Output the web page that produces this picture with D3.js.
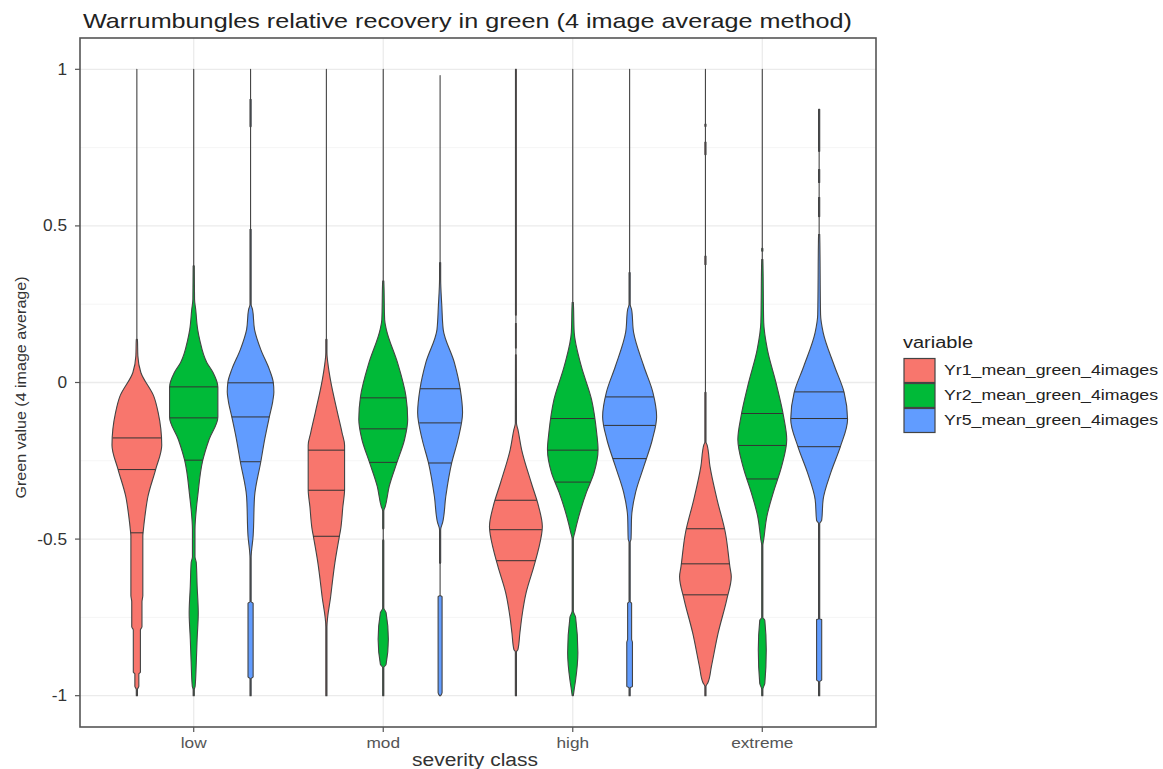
<!DOCTYPE html>
<html>
<head>
<meta charset="utf-8">
<script src="https://cdn.jsdelivr.net/npm/d3@7"></script>
<style>
  html, body { margin: 0; padding: 0; background: #fff; }
  svg { display: block; font-family: "Liberation Sans", Arial, sans-serif; }
</style>
</head>
<body>
<svg id="chart" width="1163" height="769"></svg>
<script>
// ---------------- data ----------------
const titleText = "Warrumbungles relative recovery in green (4 image average method)";
const xTitle = "severity class";
const yTitle = "Green value (4 image average)";
const legendTitle = "variable";
const categories = ["low", "mod", "high", "extreme"];
const seriesNames = ["Yr1_mean_green_4images", "Yr2_mean_green_4images", "Yr5_mean_green_4images"];
const yTicks = [-1, -0.5, 0, 0.5, 1];
const yTickLabels = ["-1", "-0.5", "0", "0.5", "1"];
const yMinorTicks = [-0.75, -0.25, 0.25, 0.75];

// violin profiles: [value, relative density] from top to bottom
const yr1_low = [[1,0],[0.14,0],[0.137,0.02],[0.085,0.035],[0.032,0.14],[-0.045,0.6],[-0.096,0.75],[-0.2,0.875],[-0.278,0.66],[-0.364,0.39],[-0.43,0.28],[-0.47,0.23],[-0.49,0.21],[-0.68,0.21],[-0.7,0.18],[-0.78,0.18],[-0.79,0.125],[-0.925,0.125],[-0.93,0.07],[-0.97,0.07],[-0.98,0.02],[-1,0.02]];
const yr1_mod = [[1,0],[0.14,0],[0.137,0.02],[0.096,0.02],[0.05,0.07],[0.01,0.14],[-0.096,0.39],[-0.16,0.55],[-0.2,0.64],[-0.342,0.64],[-0.396,0.58],[-0.47,0.5],[-0.49,0.46],[-0.575,0.3],[-0.684,0.15],[-0.78,0.02],[-1,0.02]];
const yr1_high = [[1,0.015],[0.215,0.015],[0.214,0],[0.19,0],[0.189,0.015],[0.11,0.015],[0.108,0],[0.09,0],[0.088,0.015],[-0.13,0.02],[-0.15,0.07],[-0.214,0.2],[-0.32,0.54],[-0.396,0.8],[-0.46,0.93],[-0.534,0.79],[-0.588,0.63],[-0.671,0.36],[-0.748,0.21],[-0.8,0.14],[-0.853,0.07],[-0.86,0.02],[-1,0.02]];
const yr1_extreme = [[1,0],[0.826,0],[0.825,0.02],[0.818,0.02],[0.817,0],[0.768,0],[0.767,0.02],[0.728,0.02],[0.727,0],[0.404,0],[0.403,0.02],[0.377,0.02],[0.376,0],[-0.03,0],[-0.032,0.02],[-0.19,0.02],[-0.2,0.06],[-0.268,0.16],[-0.374,0.41],[-0.479,0.7],[-0.588,0.86],[-0.62,0.91],[-0.693,0.75],[-0.799,0.45],[-0.907,0.21],[-0.958,0.09],[-0.97,0.02],[-1,0.02]];

const yr2_low = [[1,0],[0.375,0],[0.372,0.02],[0.265,0.03],[0.233,0.07],[0.169,0.14],[0.137,0.21],[0.064,0.46],[0.032,0.68],[-0.015,0.85],[-0.11,0.85],[-0.182,0.54],[-0.248,0.32],[-0.364,0.14],[-0.406,0.09],[-0.47,0.045],[-0.556,0.045],[-0.575,0.09],[-0.65,0.12],[-0.735,0.16],[-0.82,0.12],[-0.895,0.09],[-0.97,0.05],[-0.98,0.02],[-1,0.02]];
const yr2_mod = [[1,0],[0.325,0],[0.324,0.02],[0.2,0.05],[0.169,0.11],[0.064,0.5],[-0.045,0.8],[-0.118,0.86],[-0.182,0.75],[-0.256,0.48],[-0.332,0.21],[-0.396,0.07],[-0.41,0.02],[-0.465,0.02],[-0.47,0],[-0.5,0],[-0.505,0.02],[-0.72,0.02],[-0.735,0.1],[-0.82,0.18],[-0.9,0.1],[-0.91,0.02],[-1,0.02]];
const yr2_high = [[1,0],[0.257,0],[0.256,0.02],[0.16,0.05],[0.052,0.3],[-0.054,0.66],[-0.16,0.84],[-0.214,0.89],[-0.288,0.75],[-0.351,0.48],[-0.428,0.21],[-0.479,0.07],[-0.5,0.02],[-0.73,0.02],[-0.75,0.1],[-0.863,0.18],[-0.95,0.1],[-0.98,0.05],[-1,0.02]];
const yr2_extreme = [[1,0],[0.43,0],[0.428,0.02],[0.42,0.02],[0.418,0],[0.394,0],[0.393,0.02],[0.192,0.05],[0.105,0.18],[0.0,0.48],[-0.109,0.75],[-0.182,0.86],[-0.268,0.68],[-0.351,0.39],[-0.428,0.16],[-0.502,0.05],[-0.52,0.02],[-0.75,0.02],[-0.76,0.09],[-0.853,0.14],[-0.96,0.09],[-0.98,0.02],[-1,0.02]];

const yr5_low = [[1,0],[0.905,0],[0.904,0.02],[0.818,0.02],[0.815,0],[0.49,0],[0.489,0.02],[0.249,0.02],[0.233,0.07],[0.169,0.14],[0.105,0.36],[0.042,0.66],[0.0,0.8],[-0.03,0.82],[-0.06,0.78],[-0.11,0.66],[-0.18,0.5],[-0.253,0.36],[-0.364,0.14],[-0.49,0.09],[-0.56,0.02],[-0.7,0.02],[-0.705,0.09],[-0.94,0.09],[-0.945,0.02],[-1,0.02]];
const yr5_mod = [[0.98,0],[0.384,0],[0.383,0.02],[0.329,0.02],[0.246,0.06],[0.169,0.11],[0.064,0.5],[-0.022,0.71],[-0.096,0.79],[-0.182,0.63],[-0.256,0.41],[-0.364,0.2],[-0.447,0.09],[-0.47,0.02],[-0.575,0.02],[-0.58,0],[-0.68,0],[-0.684,0.07],[-0.99,0.07],[-1,0.02]];
const yr5_high = [[1,0],[0.352,0],[0.351,0.02],[0.249,0.02],[0.233,0.07],[0.16,0.14],[0.052,0.5],[-0.032,0.82],[-0.109,0.95],[-0.182,0.8],[-0.268,0.5],[-0.351,0.21],[-0.428,0.07],[-0.5,0.05],[-0.51,0.02],[-0.7,0.02],[-0.705,0.07],[-0.82,0.07],[-0.83,0.1],[-0.97,0.1],[-0.975,0.02],[-1,0.02]];
const yr5_extreme = [[0.872,0.02],[0.738,0.02],[0.737,0],[0.681,0],[0.68,0.02],[0.639,0.02],[0.638,0],[0.592,0],[0.591,0.02],[0.53,0.02],[0.529,0],[0.474,0],[0.473,0.02],[0.217,0.05],[0.16,0.14],[0.052,0.54],[-0.032,0.88],[-0.118,1.0],[-0.204,0.75],[-0.288,0.41],[-0.374,0.14],[-0.44,0.09],[-0.45,0.02],[-0.755,0.02],[-0.757,0.09],[-0.95,0.09],[-0.955,0.02],[-1,0.02]];

// quantile lines (25%, 50%, 75%) per category
const yr1_quantiles = [[-0.48,-0.278,-0.177],[-0.491,-0.344,-0.216],[-0.569,-0.47,-0.376],[-0.678,-0.579,-0.467]];
const yr2_quantiles = [[-0.248,-0.113,-0.014],[-0.255,-0.148,-0.049],[-0.318,-0.216,-0.115],[-0.308,-0.201,-0.099]];
const yr5_quantiles = [[-0.253,-0.11,-0.001],[-0.257,-0.129,-0.02],[-0.243,-0.137,-0.046],[-0.205,-0.115,-0.03]];

// ---------------- styling ----------------
const palette = ["#F8766D", "#00BA38", "#619CFF"];
const profiles = [
  [yr1_low, yr1_mod, yr1_high, yr1_extreme],
  [yr2_low, yr2_mod, yr2_high, yr2_extreme],
  [yr5_low, yr5_mod, yr5_high, yr5_extreme]
];
const quantiles = [yr1_quantiles, yr2_quantiles, yr5_quantiles];

const svg = d3.select("#chart");
const panel = { left: 80, right: 876, top: 38, bottom: 727 };

const x = d3.scalePoint().domain(categories).range([panel.left, panel.right]).padding(0.6);
const step = x.step();
const y = d3.scaleLinear().domain([-1.1, 1.1]).range([panel.bottom, panel.top]);
const dodge = d3.scaleLinear().domain([0, 2]).range([-0.3 * step, 0.3 * step]);
const halfW = d3.scaleLinear().domain([0, 1]).range([0, 0.15 * step]);

// panel background
svg.append("rect").attr("x", panel.left).attr("y", panel.top)
  .attr("width", panel.right - panel.left).attr("height", panel.bottom - panel.top)
  .attr("fill", "#fff");

// gridlines
const grid = svg.append("g");
grid.selectAll(".minor").data(yMinorTicks).join("line")
  .attr("x1", panel.left).attr("x2", panel.right)
  .attr("y1", d => y(d)).attr("y2", d => y(d))
  .attr("stroke", "#f3f3f3").attr("stroke-width", 0.8);
grid.selectAll(".majorY").data(yTicks).join("line")
  .attr("x1", panel.left).attr("x2", panel.right)
  .attr("y1", d => y(d)).attr("y2", d => y(d))
  .attr("stroke", "#ebebeb").attr("stroke-width", 1.3);
grid.selectAll(".majorX").data(categories).join("line")
  .attr("x1", d => x(d)).attr("x2", d => x(d))
  .attr("y1", panel.top).attr("y2", panel.bottom)
  .attr("stroke", "#ebebeb").attr("stroke-width", 1.3);

function densityAt(profile, v) {
  for (let i = 0; i < profile.length - 1; i++) {
    const a = profile[i], b = profile[i + 1];
    if (v <= a[0] && v >= b[0]) {
      const t = (a[0] - b[0]) === 0 ? 0 : (a[0] - v) / (a[0] - b[0]);
      return a[1] + t * (b[1] - a[1]);
    }
  }
  return 0;
}

// violins
const vg = svg.append("g");
seriesNames.forEach((s, si) => {
  categories.forEach((c, ci) => {
    const cx = x(c) + dodge(si);
    const prof = profiles[si][ci];
    const area = d3.area()
      .curve(d3.curveMonotoneY)
      .y(p => y(p[0]))
      .x0(p => cx - halfW(p[1]))
      .x1(p => cx + halfW(p[1]));
    vg.append("path")
      .attr("d", area(prof))
      .attr("fill", palette[si])
      .attr("stroke", "#444")
      .attr("stroke-width", 1.1)
      .attr("stroke-linejoin", "round");
    quantiles[si][ci].forEach(q => {
      const w = halfW(densityAt(prof, q));
      vg.append("line")
        .attr("x1", cx - w).attr("x2", cx + w)
        .attr("y1", y(q)).attr("y2", y(q))
        .attr("stroke", "#333").attr("stroke-width", 1);
    });
  });
});

// panel border
svg.append("rect").attr("x", panel.left).attr("y", panel.top)
  .attr("width", panel.right - panel.left).attr("height", panel.bottom - panel.top)
  .attr("fill", "none").attr("stroke", "#555").attr("stroke-width", 1.6);

// y axis
const yAxis = svg.append("g");
yAxis.selectAll("line").data(yTicks).join("line")
  .attr("x1", panel.left - 5).attr("x2", panel.left)
  .attr("y1", d => y(d)).attr("y2", d => y(d))
  .attr("stroke", "#555").attr("stroke-width", 1.2);
yAxis.selectAll("text").data(yTicks).join("text")
  .attr("transform", d => `translate(${panel.left - 13},${y(d) + 5.5}) scale(1.08,1)`)
  .attr("text-anchor", "end")
  .attr("font-size", 16).attr("fill", "#333")
  .text((d, i) => yTickLabels[i]);

// x axis
const xAxis = svg.append("g");
xAxis.selectAll("line").data(categories).join("line")
  .attr("x1", d => x(d)).attr("x2", d => x(d))
  .attr("y1", panel.bottom).attr("y2", panel.bottom + 5)
  .attr("stroke", "#555").attr("stroke-width", 1.2);
xAxis.selectAll("text").data(categories).join("text")
  .attr("transform", d => `translate(${x(d)},${panel.bottom + 21}) scale(1.15,1)`)
  .attr("text-anchor", "middle")
  .attr("font-size", 15).attr("fill", "#555")
  .text(d => d);

// titles
svg.append("text").attr("x", 83).attr("y", 28)
  .attr("font-size", 21).attr("fill", "#222")
  .attr("textLength", 769).attr("lengthAdjust", "spacingAndGlyphs")
  .text(titleText);
svg.append("text").attr("x", (panel.left + panel.right) / 2 - 3).attr("y", 766)
  .attr("text-anchor", "middle")
  .attr("font-size", 18).attr("fill", "#333")
  .attr("textLength", 126).attr("lengthAdjust", "spacingAndGlyphs")
  .text(xTitle);
svg.append("text")
  .attr("transform", `translate(26,${(panel.top + panel.bottom) / 2 + 5}) rotate(-90)`)
  .attr("text-anchor", "middle")
  .attr("font-size", 15.5).attr("fill", "#333")
  .attr("textLength", 222).attr("lengthAdjust", "spacingAndGlyphs")
  .text(yTitle);

// legend
const lg = svg.append("g");
lg.append("text").attr("x", 903).attr("y", 348)
  .attr("font-size", 16).attr("fill", "#222")
  .attr("textLength", 70).attr("lengthAdjust", "spacingAndGlyphs")
  .text(legendTitle);
const keyY = d3.scaleLinear().domain([0, 1]).range([358, 383]);
seriesNames.forEach((s, i) => {
  lg.append("rect")
    .attr("x", 904).attr("y", keyY(i) + 0.5)
    .attr("width", 31).attr("height", 24)
    .attr("fill", palette[i]).attr("stroke", "#444").attr("stroke-width", 1.2);
  lg.append("text")
    .attr("x", 944).attr("y", keyY(i) + 17)
    .attr("font-size", 14).attr("fill", "#222")
    .attr("textLength", 214).attr("lengthAdjust", "spacingAndGlyphs")
    .text(s);
});
</script>
</body>
</html>
